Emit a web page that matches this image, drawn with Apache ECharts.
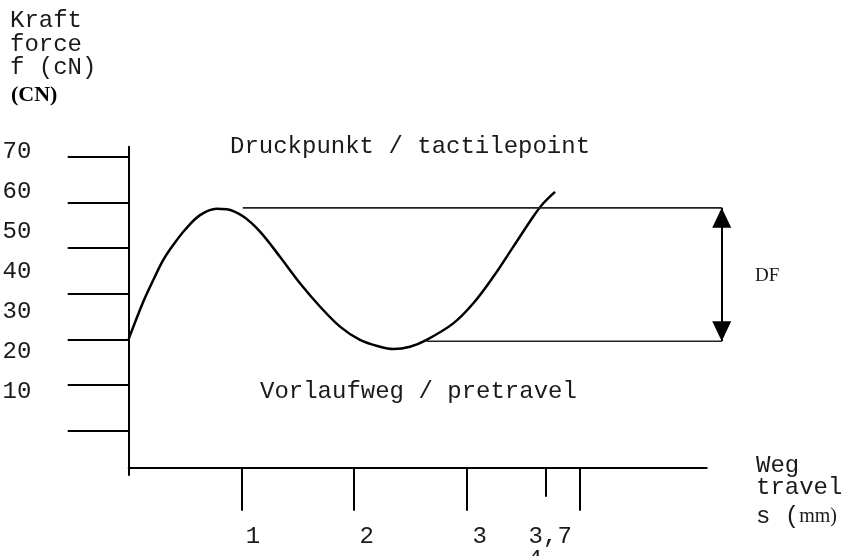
<!DOCTYPE html>
<html><head><meta charset="utf-8">
<script src="https://cdn.jsdelivr.net/npm/echarts@6/dist/echarts.min.js"></script>
<style>html,body{margin:0;padding:0;background:#fff}#c{width:841px;height:556px}</style>
</head><body><div id="c"></div>
<script>
// travel s (mm) and force f (cN) of the drawn curve
const travel = [0, 0.130, 0.218, 0.307, 0.396, 0.500, 0.633, 0.781, 0.870, 1.017, 1.165, 1.342, 1.520, 1.697, 1.875, 2.052, 2.230, 2.348, 2.496, 2.644, 2.880, 3.058, 3.235, 3.413, 3.590, 3.679, 3.783];
const force  = [30.1, 38.3, 43.0, 47.4, 50.7, 54.0, 57.2, 58.6, 58.5, 56.9, 53.6, 48.1, 42.3, 37.2, 32.8, 29.9, 28.4, 27.9, 28.4, 29.9, 33.5, 37.9, 43.7, 50.3, 56.9, 59.8, 62.3];
const yTickValues = [10, 20, 30, 40, 50, 60, 70];
const yTickLabels = ['10', '20', '30', '40', '50', '60', '70'];
const xTicksLong = [1, 2, 3, 4];
const xTicksShort = [3.7];
const xTickValues = [1, 2, 3, 3.7, 4];
const xTickLabels = ['1', '2', '3', '3,7', '4'];
const tactileLevel = 58.8;     // Druckpunkt
const pretravelLevel = 29.6;   // end of DF
const tactileLineX = [1.012, 5.262];
const pretravelLineX = [2.644, 5.262];
const dfX = 5.262;

const MONO = "'Liberation Mono', monospace";
const SERIF = "'Liberation Serif', serif";
const FS = 24;
const INK = '#1a1a1a';

const chart = echarts.init(document.getElementById('c'), null, {renderer: 'canvas'});

const labelRich = {
  l0: {fontFamily: MONO, fontSize: FS, color: INK, padding: [0, 0, 0, 23]},
  l1: {fontFamily: MONO, fontSize: FS, color: INK, padding: [0, 0, 0, 25]},
  l2: {fontFamily: MONO, fontSize: FS, color: INK, padding: [0, 0, 0, 26]},
  l3: {fontFamily: MONO, fontSize: FS, color: INK, padding: [0, 0, 0, 9]},
  l4: {fontFamily: MONO, fontSize: FS, color: INK, padding: [23, 89, 0, 0]}
};

const gridLeft = 128.7, pxPerMm = 112.7;
const axisWidth = 578, plotWidth = 630;
const xMax = plotWidth / pxPerMm;

function hiddenX(extra) {
  return Object.assign({
    gridIndex: 0, type: 'value', min: 0, max: xMax, position: 'bottom',
    axisLine: {show: false, onZero: false},
    axisTick: {show: false},
    axisLabel: {show: false},
    splitLine: {show: false}
  }, extra);
}
function labelAxis(values) {
  return hiddenX({
    axisLabel: {
      show: true, customValues: values, margin: 57,
      showMinLabel: true, showMaxLabel: true, hideOverlap: false,
      formatter: function (v) {
        const i = xTickValues.indexOf(v);
        return i < 0 ? '' : '{l' + i + '|' + xTickLabels[i] + '}';
      },
      rich: labelRich
    }
  });
}

chart.setOption({
  animation: false,
  backgroundColor: '#fff',
  grid: [
    {left: gridLeft, width: plotWidth, top: 146.7, bottom: 556 - 467.7, outerBoundsMode: 'none', containLabel: false},
    {left: gridLeft, width: axisWidth, top: 146.7, bottom: 556 - 475, outerBoundsMode: 'none', containLabel: false}
  ],
  xAxis: [
    hiddenX({
      axisTick: {show: true, customValues: xTicksLong, length: 43, inside: false, lineStyle: {color: '#000', width: 2}}
    }),
    hiddenX({
      axisTick: {show: true, customValues: xTicksShort, length: 29, inside: false, lineStyle: {color: '#000', width: 2}}
    }),
    {
      gridIndex: 1, type: 'value', min: 0, max: 1,
      axisLine: {show: true, onZero: true, lineStyle: {color: '#000', width: 2}},
      axisTick: {show: false}, axisLabel: {show: false}, splitLine: {show: false}
    },
    labelAxis(xTickValues.slice(0, 4)),
    labelAxis(xTickValues.slice(4))
  ],
  yAxis: [
    {
      gridIndex: 0, type: 'value', min: 1.9, max: 72.19,
      axisLine: {show: false, onZero: false},
      axisTick: {show: true, customValues: yTickValues, length: 61, inside: false, lineStyle: {color: '#000', width: 2}},
      axisLabel: {show: false},
      splitLine: {show: false}
    },
    {
      gridIndex: 0, type: 'value', min: -9, max: 71.25, position: 'left', offset: 97.3,
      axisLine: {show: false, onZero: false},
      axisTick: {show: false},
      axisLabel: {
        show: true, customValues: yTickValues, margin: 0,
        showMinLabel: true, showMaxLabel: true,
        formatter: function (v) { const i = yTickValues.indexOf(v); return i < 0 ? '' : yTickLabels[i]; },
        fontFamily: MONO, fontSize: FS, color: INK
      },
      splitLine: {show: false}
    },
    {
      gridIndex: 1, type: 'value', min: -7.3, max: 321,
      axisLine: {show: true, onZero: false, lineStyle: {color: '#000', width: 2}},
      axisTick: {show: false}, axisLabel: {show: false}, splitLine: {show: false}
    }
  ],
  series: [
    {
      type: 'line', xAxisIndex: 0, yAxisIndex: 0,
      data: travel.map((t, i) => [t, force[i]]),
      smooth: 0.35, showSymbol: false, symbol: 'none',
      lineStyle: {color: '#000', width: 2.5}
    },
    {
      type: 'line', xAxisIndex: 0, yAxisIndex: 0,
      data: tactileLineX.map(x => [x, tactileLevel]),
      showSymbol: false, symbol: 'none',
      lineStyle: {color: '#222', width: 1.6},
      markLine: {
        silent: true, animation: false,
        symbol: ['triangle', 'triangle'], symbolSize: [19, 20],
        symbolOffset: [[0, 10], [0, 10]],
        lineStyle: {color: '#000', width: 2, type: 'solid'},
        label: {show: false},
        data: [[{coord: [dfX, pretravelLevel]}, {coord: [dfX, tactileLevel]}]]
      }
    },
    {
      type: 'line', xAxisIndex: 0, yAxisIndex: 0,
      data: pretravelLineX.map(x => [x, pretravelLevel]),
      showSymbol: false, symbol: 'none',
      lineStyle: {color: '#222', width: 1.6}
    }
  ],
  graphic: [
    {type: 'text', left: 10, top: 9, style: {text: 'Kraft\nforce\nf (cN)', font: FS + 'px ' + MONO, fill: INK, lineHeight: 23.3}},
    {type: 'text', left: 11, top: 84, style: {text: '(CN)', font: 'bold 22px ' + SERIF, fill: '#000'}},
    {type: 'text', left: 230, top: 135, style: {text: 'Druckpunkt / tactilepoint', font: FS + 'px ' + MONO, fill: INK}},
    {type: 'text', left: 260, top: 380, style: {text: 'Vorlaufweg / pretravel', font: FS + 'px ' + MONO, fill: INK}},
    {type: 'text', left: 755, top: 267, style: {text: 'DF', font: '19px ' + SERIF, fill: INK}},
    {type: 'text', left: 756, top: 454, style: {text: 'Weg', font: FS + 'px ' + MONO, fill: INK}},
    {type: 'text', left: 756, top: 476, style: {text: 'travel', font: FS + 'px ' + MONO, fill: INK}},
    {type: 'text', left: 756, top: 505, style: {rich: {m: {font: FS + 'px ' + MONO, fill: INK}, s: {font: '20px ' + SERIF, fill: INK}}, text: '{m|s (}{s|mm)}'}}
  ]
});
</script>
</body></html>
